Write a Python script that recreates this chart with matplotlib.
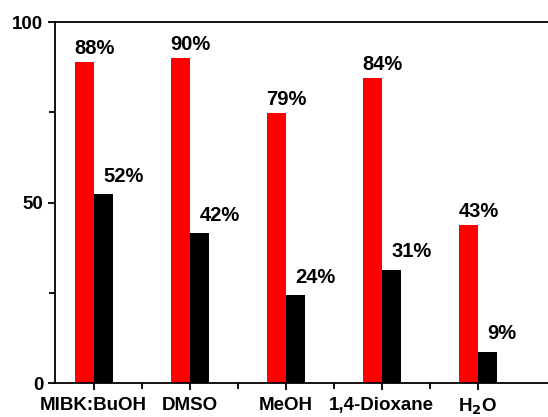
import matplotlib.pyplot as plt
from matplotlib.ticker import FixedLocator
import numpy as np

plt.rcParams['font.family'] = ['Liberation Sans', 'DejaVu Sans']
plt.rcParams['font.weight'] = 'bold'

# data
solvents = ["MIBK:BuOH", "DMSO", "MeOH", "1,4-Dioxane", r"H$_\mathbf{2}$O"]
red_vals = [88.8, 90.0, 74.8, 84.5, 43.8]
black_vals = [52.3, 41.5, 24.4, 31.4, 8.7]
red_labels = ["88%", "90%", "79%", "84%", "43%"]
black_labels = ["52%", "42%", "24%", "31%", "9%"]


def main():
    fig = plt.figure(figsize=(5.48, 4.17), dpi=100)
    ax = fig.add_axes([0.1004, 0.0815, 0.8996, 0.8657])

    x = np.arange(len(solvents))
    w = 0.2
    ax.bar(x - w / 2, red_vals, width=w, color="#ff0000")
    ax.bar(x + w / 2, black_vals, width=w, color="black")

    # value labels
    for xi, v, lab in zip(x, red_vals, red_labels):
        ax.annotate(lab, (xi - w, v), xytext=(0, 3), textcoords="offset points",
                    ha="left", va="bottom", fontsize=14.5, fontweight="bold")
    for xi, v, lab in zip(x, black_vals, black_labels):
        ax.annotate(lab, (xi + w / 2, v), xytext=(0, 6), textcoords="offset points",
                    ha="left", va="bottom", fontsize=14.5, fontweight="bold")

    ax.set_xlim(-0.403, 4.732)
    ax.set_ylim(0, 100)
    ax.set_yticks([0, 50, 100])
    ax.yaxis.set_minor_locator(FixedLocator([25, 75]))
    ax.set_xticks(x)
    ax.set_xticklabels(solvents)
    ax.xaxis.set_minor_locator(FixedLocator([0.5, 1.5, 2.5, 3.5]))

    ax.tick_params(which="both", direction="out", width=1.3, labelsize=13.5)
    ax.tick_params(which="major", length=5)
    ax.tick_params(which="minor", length=4)
    ax.tick_params(axis="x", pad=5)
    for lab in ax.get_xticklabels() + ax.get_yticklabels():
        lab.set_fontweight("bold")

    ax.spines["right"].set_visible(False)
    for s in ["left", "bottom", "top"]:
        ax.spines[s].set_linewidth(1.3)

    fig.savefig("out.png", dpi=100)


if __name__ == "__main__":
    main()
